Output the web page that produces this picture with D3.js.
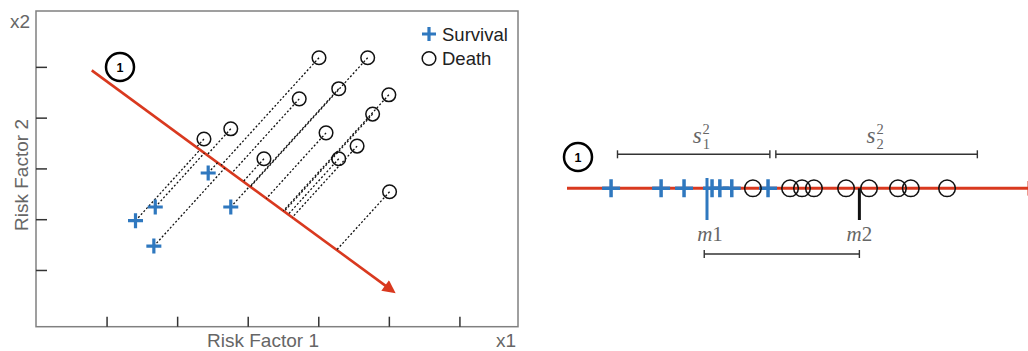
<!DOCTYPE html>
<html>
<head>
<meta charset="utf-8">
<title>Projection onto a discriminant direction</title>
<style>
body { margin: 0; background: #fff; }
svg { display: block; font-family: "Liberation Sans", Arial, sans-serif; }
.axis-label { fill: #666; font-size: 19px; }
.legend-text { fill: #222; font-size: 18.5px; }
.math { fill: #666; font-family: "Liberation Serif", "DejaVu Serif", serif; font-size: 21px; }
</style>
</head>
<body>
<div id="vis"></div>
<script src="https://cdnjs.cloudflare.com/ajax/libs/d3/7.8.5/d3.min.js"></script>
<script>

// ---- left panel: the two risk factors ----
var survival = [[1.41, 1.97], [1.69, 2.24], [1.67, 1.47], [2.44, 2.91], [2.76, 2.24]];
var death = [[2.38, 3.58], [2.76, 3.78], [3.23, 3.19], [4.01, 5.18], [4.70, 5.18],
             [3.73, 4.37], [4.29, 4.57], [5.00, 4.45], [4.77, 4.07], [4.11, 3.70],
             [4.55, 3.44], [4.29, 3.19], [5.01, 2.54]];
var direction = [[0.79, 4.93], [5.10, 0.54]];   // red arrow, start -> tip
var xTicks = [1, 2, 3, 4, 5, 6];
var yTicks = [1, 2, 3, 4, 5];

// ---- right panel: values projected on the red line ----
var survivalProj = [0.96, 2.05, 2.55, 3.16, 3.33, 3.59, 4.38];
var deathProj = [4.05, 4.86, 5.12, 5.38, 6.08, 6.58, 7.21, 7.49, 8.28];
var m1 = 3.05, m2 = 6.37;
var spread1 = [1.10, 4.42];
var spread2 = [4.55, 8.94];
var meanGap = [2.99, 6.37];
var projExtent = [0, 10];

var RED = "#d9391f", BLUE = "#2f78bf";

var svg = d3.select("#vis").append("svg")
    .attr("width", 1028)
    .attr("height", 351);

// arrow head, tip sits 3 units past the end of the line
svg.append("defs").append("marker")
    .attr("id", "head")
    .attr("viewBox", "0 0 10 10")
    .attr("refX", 7).attr("refY", 5)
    .attr("markerWidth", 5.4).attr("markerHeight", 5)
    .attr("orient", "auto")
  .append("path")
    .attr("d", "M0,0 L10,5 L0,10 z")
    .attr("fill", RED);

function plus(sel, size, width) {
  sel.append("path")
    .attr("d", "M" + (-size) + ",0H" + size + "M0," + (-size) + "V" + size)
    .attr("stroke", BLUE)
    .attr("stroke-width", width)
    .attr("fill", "none");
}

function badge(x, y) {
  var g = svg.append("g").attr("transform", "translate(" + x + "," + y + ")");
  g.append("circle").attr("r", 14).attr("fill", "#fff").attr("stroke", "#000").attr("stroke-width", 2.5);
  g.append("text").attr("text-anchor", "middle").attr("dy", 4.5)
    .style("font-size", "12.5px").style("font-weight", "bold").text("1");
}

// ================= LEFT =================
var x = d3.scaleLinear().domain([0, 6.83]).range([36, 518]);
var y = d3.scaleLinear().domain([-0.117, 6.1]).range([326.7, 11]);

var left = svg.append("g");

left.append("rect")
    .attr("x", x.range()[0]).attr("y", y.range()[1])
    .attr("width", x.range()[1] - x.range()[0])
    .attr("height", y.range()[0] - y.range()[1])
    .attr("fill", "none").attr("stroke", "#808080").attr("stroke-width", 1.5);

left.append("g")
    .attr("transform", "translate(0," + y.range()[0] + ")")
    .call(d3.axisBottom(x).tickValues(xTicks).tickSize(-10).tickFormat(""))
    .call(function(g) { g.select(".domain").remove(); })
    .selectAll("line").attr("stroke", "#333").attr("stroke-width", 1.5);

left.append("g")
    .attr("transform", "translate(" + x.range()[0] + ",0)")
    .call(d3.axisLeft(y).tickValues(yTicks).tickSize(-11).tickFormat(""))
    .call(function(g) { g.select(".domain").remove(); })
    .selectAll("line").attr("stroke", "#333").attr("stroke-width", 1.5);

left.append("text").attr("class", "axis-label").attr("x", 10).attr("y", 28).text("x2");
left.append("text").attr("class", "axis-label").attr("x", 496).attr("y", 347).text("x1");
left.append("text").attr("class", "axis-label")
    .attr("x", 263).attr("y", 347).attr("text-anchor", "middle").text("Risk Factor 1");
left.append("text").attr("class", "axis-label")
    .attr("transform", "translate(28,175) rotate(-90)")
    .attr("text-anchor", "middle").text("Risk Factor 2");

// foot of each point on the red line, along a common slanted direction
var A = [x(direction[0][0]), y(direction[0][1])],
    B = [x(direction[1][0]), y(direction[1][1])],
    v = [B[0] - A[0], B[1] - A[1]],
    len = Math.sqrt(v[0] * v[0] + v[1] * v[1]),
    dir = [1, -1.1];
function foot(d) {
  var P = [x(d[0]), y(d[1])];
  var t = ((A[0] - P[0]) * v[1] - (A[1] - P[1]) * v[0]) / (dir[0] * v[1] - dir[1] * v[0]);
  return [P[0] + t * dir[0], P[1] + t * dir[1]];
}

var back = 3 * 5.4 / 10 * 2.6;   // marker overhang in px
left.append("line")
    .attr("x1", A[0]).attr("y1", A[1])
    .attr("x2", B[0] - v[0] * back / len).attr("y2", B[1] - v[1] * back / len)
    .attr("stroke", RED).attr("stroke-width", 2.6)
    .attr("marker-end", "url(#head)");

left.selectAll(".proj")
    .data(survival.concat(death))
  .enter().append("line")
    .attr("class", "proj")
    .attr("x1", function(d) { return x(d[0]); })
    .attr("y1", function(d) { return y(d[1]); })
    .attr("x2", function(d) { return foot(d)[0]; })
    .attr("y2", function(d) { return foot(d)[1]; })
    .attr("stroke", "#111").attr("stroke-width", 1.3)
    .attr("stroke-dasharray", "2,2");

left.selectAll(".surv")
    .data(survival)
  .enter().append("g")
    .attr("class", "surv")
    .attr("transform", function(d) { return "translate(" + x(d[0]) + "," + y(d[1]) + ")"; })
    .each(function() { plus(d3.select(this), 7.5, 3.2); });

left.selectAll(".death")
    .data(death)
  .enter().append("circle")
    .attr("class", "death")
    .attr("cx", function(d) { return x(d[0]); })
    .attr("cy", function(d) { return y(d[1]); })
    .attr("r", 6.8)
    .attr("fill", "none").attr("stroke", "#111").attr("stroke-width", 1.5);

// legend
var lg = left.append("g").attr("transform", "translate(429,0)");
plus(lg.append("g").attr("transform", "translate(0,34)"), 7, 3.2);
lg.append("circle").attr("cx", 0).attr("cy", 58.5).attr("r", 6.8)
    .attr("fill", "none").attr("stroke", "#111").attr("stroke-width", 1.5);
lg.append("text").attr("class", "legend-text").attr("x", 13).attr("y", 40.5).text("Survival");
lg.append("text").attr("class", "legend-text").attr("x", 13).attr("y", 65).text("Death");

badge(120, 67);

// ================= RIGHT =================
var p = d3.scaleLinear().domain(projExtent).range([567, 1026]);
var lineY = 188.3;
var right = svg.append("g");

// arrow head falls just past the right edge, only its base shows
right.append("line")
    .attr("x1", p(projExtent[0])).attr("x2", p(projExtent[1]) + 12)
    .attr("y1", lineY).attr("y2", lineY)
    .attr("stroke", RED).attr("stroke-width", 3)
    .attr("marker-end", "url(#head)");

function bracket(range, yy) {
  var g = right.append("g").attr("stroke", "#333").attr("stroke-width", 1.4);
  g.append("line").attr("x1", p(range[0])).attr("x2", p(range[1])).attr("y1", yy).attr("y2", yy);
  range.forEach(function(r) {
    g.append("line").attr("x1", p(r)).attr("x2", p(r)).attr("y1", yy - 4).attr("y2", yy + 4);
  });
}
bracket(spread1, 154.3);
bracket(spread2, 154.3);
bracket(meanGap, 254);

right.append("line")
    .attr("x1", p(m1)).attr("x2", p(m1)).attr("y1", 178).attr("y2", 220)
    .attr("stroke", BLUE).attr("stroke-width", 3);
right.append("line")
    .attr("x1", p(m2)).attr("x2", p(m2)).attr("y1", lineY).attr("y2", 220)
    .attr("stroke", "#111").attr("stroke-width", 3);

right.selectAll(".surv")
    .data(survivalProj)
  .enter().append("g")
    .attr("class", "surv")
    .attr("transform", function(d) { return "translate(" + p(d) + "," + lineY + ")"; })
    .each(function() { plus(d3.select(this), 9, 3.5); });

right.selectAll(".death")
    .data(deathProj)
  .enter().append("circle")
    .attr("class", "death")
    .attr("cx", function(d) { return p(d); })
    .attr("cy", lineY)
    .attr("r", 8.3)
    .attr("fill", "none").attr("stroke", "#111").attr("stroke-width", 1.5);

function meanLabel(val, num, shift) {
  var t = right.append("text").attr("class", "math")
      .attr("x", p(val) + shift).attr("y", 241).attr("text-anchor", "middle");
  t.append("tspan").style("font-style", "italic").text("m");
  t.append("tspan").text(num);
}
meanLabel(m1, "1", 3);
meanLabel(m2, "2", 0);

function spreadLabel(x0, num) {
  var t = right.append("text").attr("class", "math").attr("x", x0).attr("y", 143)
      .style("font-size", "23px");
  t.append("tspan").style("font-style", "italic").text("s");
  t.append("tspan").attr("dx", 1).attr("dy", 6).style("font-size", "14.5px").text(num);
  t.append("tspan").attr("dx", -7.3).attr("dy", -15).style("font-size", "14.5px").text("2");
}
spreadLabel(p((spread1[0] + spread1[1]) / 2) - 1, "1");
spreadLabel(p((spread2[0] + spread2[1]) / 2) - 10, "2");

badge(578, 157);

</script>
</body>
</html>
